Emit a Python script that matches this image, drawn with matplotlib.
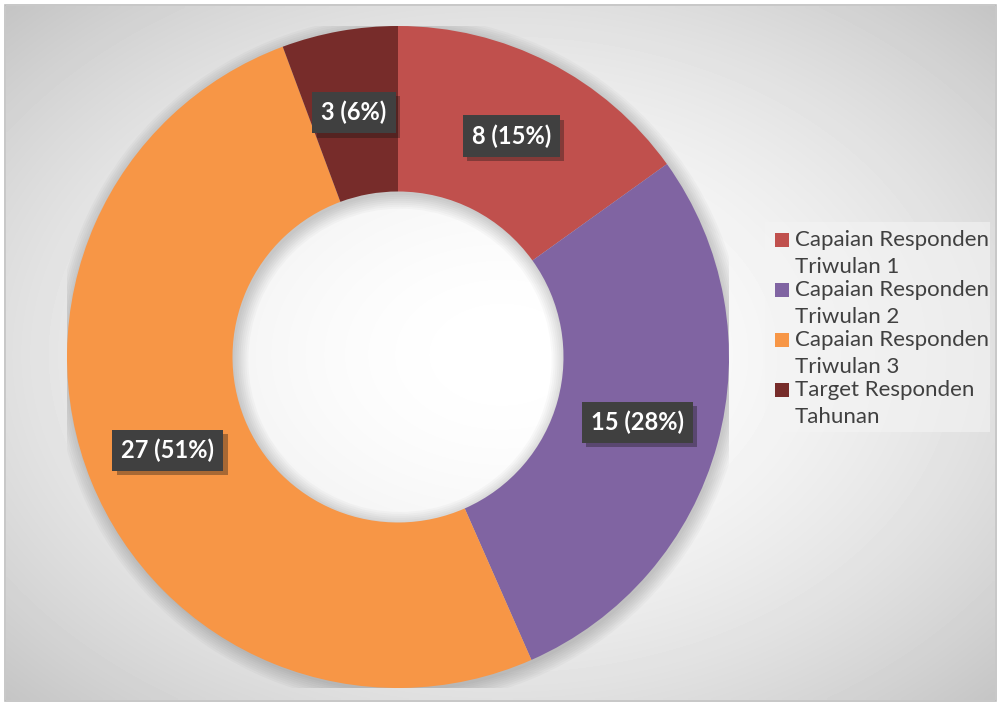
import numpy as np
import matplotlib.pyplot as plt
import matplotlib.patheffects as pe
from matplotlib.patches import Rectangle, Wedge

labels = ['Capaian Responden\nTriwulan 1', 'Capaian Responden\nTriwulan 2',
          'Capaian Responden\nTriwulan 3', 'Target Responden\nTahunan']
values = [8, 15, 27, 3]
colors = ['#C0504D', '#8064A2', '#F79646', '#772C2A']

plt.rcParams['font.family'] = ['Lato', 'DejaVu Sans']

W, H = 999, 702
fig = plt.figure(figsize=(W / 100, H / 100), dpi=100)
fig.patch.set_facecolor('white')

# background: radial grey gradient inside a thin frame
bg = fig.add_axes([6 / W, 2 / H, (W - 10) / W, (H - 8) / H])
yy, xx = np.mgrid[0:200, 0:300]
r = np.sqrt(((xx - 150) / 150) ** 2 + ((yy - 100) / 100) ** 2) / np.sqrt(2)
shade = 1.0 - (1.0 - 0.77) * np.clip(r, 0, 1) ** 1.8
bg.imshow(shade, cmap='gray', vmin=0, vmax=1, aspect='auto', interpolation='bilinear')
bg.set_axis_off()
fig.patches.append(Rectangle((5 / W, 1 / H), (W - 8) / W, (H - 6) / H, transform=fig.transFigure,
                             fill=False, ec='#bdbdbd', lw=1.2))

cx, cy, R = 398, 357, 331
ax = fig.add_axes([(cx - R) / W, (H - cy - R) / H, 2 * R / W, 2 * R / H])

# soft shadow around the ring
for k in range(8):
    ax.add_patch(Wedge((0.006, -0.01), 1.0 + k * 0.006, 0, 360, width=0.5 + k * 0.012,
                       color='black', alpha=0.025, lw=0))

wedges, _ = ax.pie(values, colors=colors, startangle=90, counterclock=False, radius=1,
                   wedgeprops=dict(width=0.5, lw=0))
ax.set_xlim(-1, 1)
ax.set_ylim(-1, 1)
ax.set_axis_off()

total = sum(values)
for w, v in zip(wedges, values):
    ang = np.deg2rad((w.theta1 + w.theta2) / 2)
    x, y = 0.75 * np.cos(ang), 0.75 * np.sin(ang)
    t = ax.text(x, y, f'{v} ({v / total * 100:.0f}%)', ha='center', va='center',
                fontsize=17, fontweight='bold', color='white',
                bbox=dict(boxstyle='square,pad=0.38', fc='#404040', ec='none'))
    t.get_bbox_patch().set_path_effects([pe.withSimplePatchShadow(offset=(3, -3), alpha=0.35)])

# legend drawn by hand: marker aligned with the first line of each entry
fig.patches.append(Rectangle((765 / W, 1 - 432 / H), 225 / W, 210 / H, transform=fig.transFigure,
                             fc='#f4f4f4', alpha=0.6, ec='none'))
for i, (lab, col) in enumerate(zip(labels, colors)):
    y0 = 240 + 50 * i
    fig.patches.append(Rectangle((775 / W, 1 - (y0 + 7) / H), 14 / W, 14 / H,
                                 transform=fig.transFigure, fc=col, ec='none'))
    for j, line in enumerate(lab.split('\n')):
        fig.text(795 / W, 1 - (y0 + 27 * j) / H, line, ha='left', va='center',
                 fontsize=16, color='#404040')

fig.savefig('out.png', dpi=100)
